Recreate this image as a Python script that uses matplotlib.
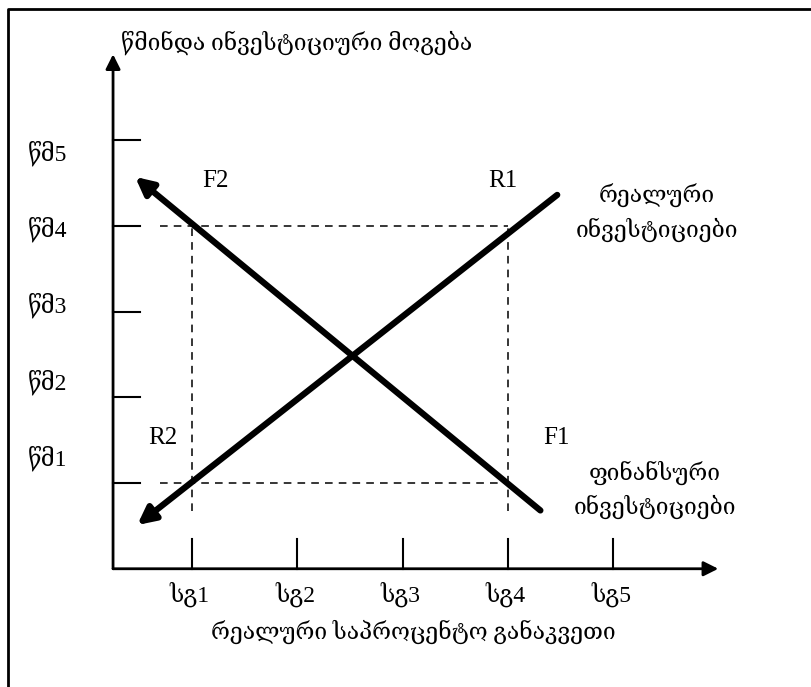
import matplotlib
matplotlib.use("Agg")
import matplotlib.pyplot as plt

# tick labels
x_labels = ["სგ1", "სგ2", "სგ3", "სგ4", "სგ5"]
y_labels = ["წმ1", "წმ2", "წმ3", "წმ4", "წმ5"]
x_ticks = [1, 2, 3, 4, 5]
y_ticks = [1, 2, 3, 4, 5]

x_title = "რეალური საპროცენტო განაკვეთი"
y_title = "წმინდა ინვესტიციური მოგება"

# real investment curve (upward), arrow at lower-left end
real_x = [4.47, 0.48]
real_y = [4.36, 0.51]
# financial investment curve (downward), arrow at upper-left end
fin_x = [4.31, 0.46]
fin_y = [0.68, 4.57]

# dashed guides: rate levels sg1, sg4 and profit levels wm1, wm4
guide_x = [1, 4]
guide_y = [1, 4]

FONT = ["Liberation Serif", "DejaVu Serif", "DejaVu Sans"]

fig = plt.figure(figsize=(8.11, 6.87), dpi=100)
ax = fig.add_axes([0, 0, 1, 1])
ax.set_xlim(-0.824, 6.881)
ax.set_ylim(-1.379, 6.633)
ax.axis("off")

# frame (top and left only)
ax.plot([0.0099, 0.0099, 1.0], [0.0, 0.9875, 0.9875], color="black", lw=2,
        transform=ax.transAxes, solid_capstyle="butt")

x0, y0 = 0.25, 0.0
# axes with arrows
ax.annotate("", xy=(6.0, y0), xytext=(x0, y0),
            arrowprops=dict(arrowstyle="-|>", lw=2, color="black",
                            mutation_scale=22, shrinkA=0, shrinkB=0))
ax.annotate("", xy=(x0, 6.0), xytext=(x0, y0),
            arrowprops=dict(arrowstyle="-|>", lw=2, color="black",
                            mutation_scale=22, shrinkA=0, shrinkB=0))

# ticks
for t in x_ticks:
    ax.plot([t, t], [y0, 0.35], color="black", lw=1.5)
for t in y_ticks:
    ax.plot([x0, 0.51], [t, t], color="black", lw=1.5)

# dashed guides
dash = dict(color="black", lw=1.1, ls=(0, (5, 4)))
for gy in guide_y:
    ax.plot([0.7, guide_x[1]], [gy, gy], **dash)
for gx in guide_x:
    ax.plot([gx, gx], [0.67, guide_y[1]], **dash)

# curves
ax.annotate("", xy=(real_x[1], real_y[1]), xytext=(real_x[0], real_y[0]),
            arrowprops=dict(arrowstyle="-|>", lw=4.5, color="black",
                            mutation_scale=26, shrinkA=0, shrinkB=0))
ax.annotate("", xy=(fin_x[1], fin_y[1]), xytext=(fin_x[0], fin_y[0]),
            arrowprops=dict(arrowstyle="-|>", lw=4.5, color="black",
                            mutation_scale=26, shrinkA=0, shrinkB=0))

fs_geo = 16.5
fs_tick = 17
fs_lat = 18
for t, lab in zip(x_ticks, x_labels):
    ax.text(t - 0.02, -0.30, lab, ha="center", va="center", fontsize=fs_tick, family=FONT)
for i, lab in enumerate(y_labels):
    ax.text(-0.37, 1.29 + i * 0.89, lab, ha="center", va="center", fontsize=fs_tick, family=FONT)

ax.text(3.1, -0.74, x_title, ha="center", va="center", fontsize=fs_geo, family=FONT)
ax.text(0.33, 6.13, y_title, ha="left", va="center", fontsize=fs_geo, family=FONT)

ax.text(1.22, 4.52, "F2", ha="center", va="center", fontsize=fs_lat, family=FONT)
ax.text(3.95, 4.52, "R1", ha="center", va="center", fontsize=fs_lat, family=FONT)
ax.text(0.72, 1.53, "R2", ha="center", va="center", fontsize=fs_lat, family=FONT)
ax.text(4.46, 1.53, "F1", ha="center", va="center", fontsize=fs_lat, family=FONT)

ax.text(5.42, 4.15, "რეალური\nინვესტიციები", ha="center", va="center",
        fontsize=fs_geo, family=FONT, linespacing=1.5)
ax.text(5.40, 0.92, "ფინანსური\nინვესტიციები", ha="center", va="center",
        fontsize=fs_geo, family=FONT, linespacing=1.5)

fig.savefig("out.png", dpi=100)
